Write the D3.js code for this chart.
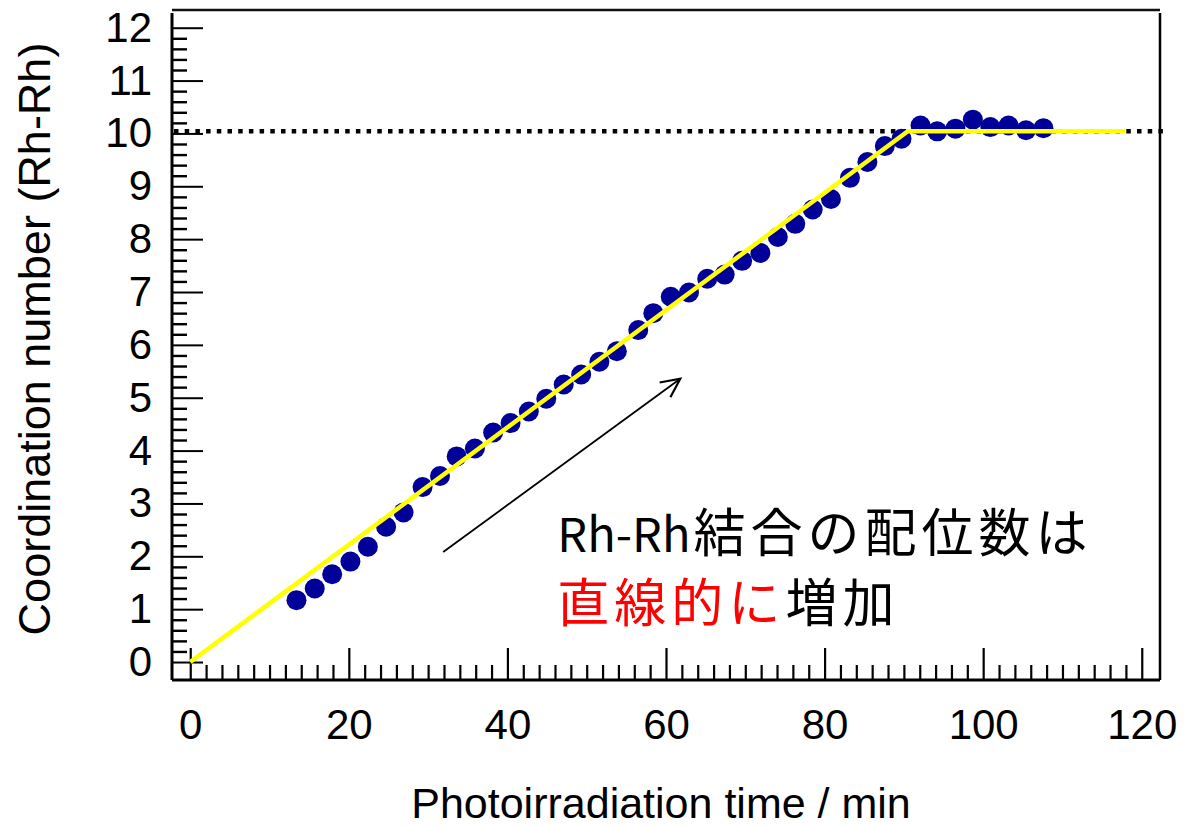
<!DOCTYPE html>
<html>
<head>
<meta charset="utf-8">
<script src="https://cdn.jsdelivr.net/npm/d3@7/dist/d3.min.js"></script>
<style>
  html, body { margin: 0; padding: 0; background: #fff; }
  svg { display: block; }
  text { font-family: "Liberation Sans", Arial, sans-serif; fill: #000; }
  .jp { font-family: "Noto Sans CJK JP", "Noto Sans", sans-serif; }
</style>
</head>
<body>
<svg id="chart" width="1184" height="826"></svg>
<script>
// Photoirradiation time (min) for each measurement
const time = [13.4, 15.7, 17.9, 20.2, 22.4, 24.7, 26.9, 29.3, 31.5, 33.6, 35.9, 38.2, 40.4, 42.7,
  44.9, 47.1, 49.3, 51.6, 53.8, 56.5, 58.4, 60.6, 62.9, 65.2, 67.4, 69.6, 71.9, 74.1, 76.3, 78.5,
  80.8, 83.2, 85.4, 87.6, 89.7, 92.1, 94.2, 96.5, 98.7, 100.9, 103.2, 105.4, 107.6];

// Rh-Rh coordination number at each time
const coordination = [1.17, 1.39, 1.66, 1.90, 2.18, 2.56, 2.83, 3.31, 3.52, 3.89, 4.04, 4.34, 4.52, 4.74,
  4.98, 5.25, 5.44, 5.68, 5.88, 6.28, 6.60, 6.91, 6.99, 7.25, 7.33, 7.59, 7.74, 8.04, 8.29, 8.56,
  8.76, 9.16, 9.46, 9.76, 9.90, 10.15, 10.04, 10.09, 10.26, 10.12, 10.15, 10.06, 10.10];

// Linear growth then plateau (guide line)
const fitTime = [0, 90.5, 117.9];
const fitValue = [0, 10.04, 10.04];

// Saturation level (dotted)
const plateauLevel = 10.04;

// Tick values
const xMajorTicks = [0, 20, 40, 60, 80, 100, 120];
const yMajorTicks = [0, 1, 2, 3, 4, 5, 6, 7, 8, 9, 10, 11, 12];

// Annotation arrow (data coordinates: start, end)
const arrowFrom = [31.9, 2.08];
const arrowTo = [61.8, 5.36];

const svg = d3.select("#chart");

const x = d3.scaleLinear().domain([-2.3, 122.3]).range([172, 1160]);
const y = d3.scaleLinear().domain([-0.34, 12.335]).range([680, 10]);

const xMinor = d3.range(0, 121, 2).filter(v => v % 20 !== 0);
const yMinor = d3.range(0, 12.01, 0.2).map(v => +v.toFixed(1)).filter(v => Math.abs(v - Math.round(v)) > 1e-6);

// ---- axes (ticks point into the plot) ----
const gx = svg.append("g").attr("transform", `translate(0,${y.range()[0]})`);
gx.call(d3.axisBottom(x).tickValues(xMajorTicks).tickSizeInner(-32).tickSizeOuter(0).tickPadding(12).tickFormat(d3.format("d")));
gx.select(".domain").remove();
gx.selectAll(".tick line").attr("stroke", "#000").attr("stroke-width", 2.2);
gx.selectAll(".tick text").attr("y", 44).attr("dy", "0.35em").style("font-size", "42px").style("font-family", "Liberation Sans, Arial, sans-serif");

const gxm = svg.append("g").attr("transform", `translate(0,${y.range()[0]})`);
gxm.call(d3.axisBottom(x).tickValues(xMinor).tickSizeInner(-15).tickSizeOuter(0).tickFormat(""));
gxm.select(".domain").remove();
gxm.selectAll(".tick line").attr("stroke", "#000").attr("stroke-width", 2.2);

const gy = svg.append("g").attr("transform", `translate(${x.range()[0]},0)`);
gy.call(d3.axisLeft(y).tickValues(yMajorTicks).tickSizeInner(-31).tickSizeOuter(0).tickPadding(20).tickFormat(d3.format("d")));
gy.select(".domain").remove();
gy.selectAll(".tick line").attr("stroke", "#000").attr("stroke-width", 2);
gy.selectAll(".tick text").attr("x", -20).style("font-size", "42px").style("font-family", "Liberation Sans, Arial, sans-serif");

const gym = svg.append("g").attr("transform", `translate(${x.range()[0]},0)`);
gym.call(d3.axisLeft(y).tickValues(yMinor).tickSizeInner(-15).tickSizeOuter(0).tickFormat(""));
gym.select(".domain").remove();
gym.selectAll(".tick line").attr("stroke", "#000").attr("stroke-width", 2.4);

// ---- frame ----
const [x0, x1] = x.range();
const [yb, yt] = y.range();
svg.append("line").attr("x1", x0).attr("x2", x1).attr("y1", yb).attr("y2", yb).attr("stroke", "#000").attr("stroke-width", 3);
svg.append("line").attr("x1", x0).attr("x2", x0).attr("y1", yt + 3).attr("y2", yb).attr("stroke", "#000").attr("stroke-width", 3);
svg.append("line").attr("x1", x0).attr("x2", x1).attr("y1", yt).attr("y2", yt).attr("stroke", "#111").attr("stroke-width", 2.5);
svg.append("line").attr("x1", x1).attr("x2", x1).attr("y1", yt + 3).attr("y2", yb).attr("stroke", "#000").attr("stroke-width", 2.5);

// ---- dotted saturation level ----
svg.append("line")
  .attr("x1", x0 + 2).attr("x2", x1 + 5)
  .attr("y1", y(plateauLevel)).attr("y2", y(plateauLevel))
  .attr("stroke", "#000").attr("stroke-width", 4.5)
  .attr("stroke-dasharray", "4.5 6.2");

// ---- measured points ----
svg.append("g").selectAll("circle")
  .data(time.map((t, i) => [t, coordination[i]]))
  .join("circle")
  .attr("cx", d => x(d[0]))
  .attr("cy", d => y(d[1]))
  .attr("r", 10)
  .attr("fill", "#000099");

// ---- guide line ----
svg.append("path")
  .datum(fitTime.map((t, i) => [t, fitValue[i]]))
  .attr("d", d3.line().x(d => x(d[0])).y(d => y(d[1])))
  .attr("fill", "none")
  .attr("stroke", "#ffff00")
  .attr("stroke-width", 4.5)
  .attr("stroke-linejoin", "miter");

// ---- arrow ----
const ax0 = x(arrowFrom[0]), ay0 = y(arrowFrom[1]);
const ax1 = x(arrowTo[0]), ay1 = y(arrowTo[1]);
svg.append("line").attr("x1", ax0).attr("y1", ay0).attr("x2", ax1).attr("y2", ay1)
  .attr("stroke", "#000").attr("stroke-width", 1.8);
const ang = Math.atan2(ay1 - ay0, ax1 - ax0);
const headLen = 21, headSpread = 0.45;
const hp = [ang + Math.PI - headSpread, ang + Math.PI + headSpread]
  .map(a => [ax1 + headLen * Math.cos(a), ay1 + headLen * Math.sin(a)]);
svg.append("path")
  .attr("d", `M${hp[0][0]},${hp[0][1]}L${ax1},${ay1}L${hp[1][0]},${hp[1][1]}`)
  .attr("fill", "none").attr("stroke", "#000").attr("stroke-width", 2.2)
  .attr("stroke-linejoin", "miter");

// ---- annotation text ----
const note1 = svg.append("text").attr("class", "jp")
  .attr("x", x(46.3)).attr("y", y(2.08))
  .style("font-size", "52px");
note1.append("tspan").style("font-size", "47px").text("Rh-Rh");
note1.append("tspan").attr("dx", 3).style("letter-spacing", "5px").text("結合の配位数は");

const note2 = svg.append("text").attr("class", "jp")
  .attr("x", x(46.3)).attr("y", y(0.76))
  .style("font-size", "52px").style("letter-spacing", "5px");
note2.append("tspan").style("fill", "#ff0000").text("直線的に");
note2.append("tspan").text("増加");

// ---- axis titles ----
svg.append("text")
  .attr("x", 661).attr("y", 818)
  .attr("text-anchor", "middle")
  .style("font-size", "43px")
  .text("Photoirradiation time / min");

svg.append("text")
  .attr("transform", "translate(50,339) rotate(-90)")
  .attr("text-anchor", "middle")
  .style("font-size", "45px")
  .text("Coordination number (Rh-Rh)");
</script>
</body>
</html>
